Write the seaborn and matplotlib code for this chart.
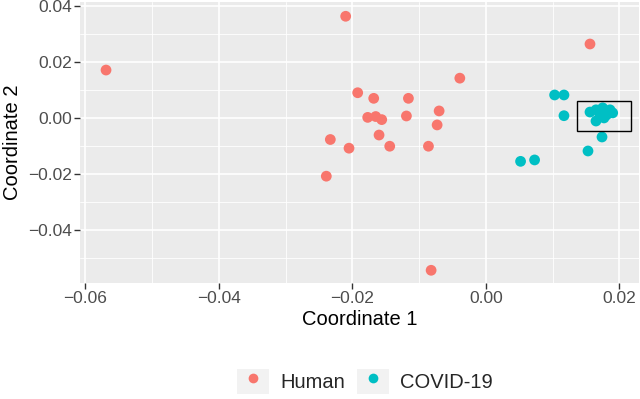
import pandas as pd
import matplotlib
matplotlib.use('Agg')
import matplotlib.pyplot as plt
import seaborn as sns
from matplotlib.patches import Rectangle, Patch
from matplotlib.lines import Line2D
from matplotlib.legend_handler import HandlerTuple
from matplotlib.ticker import MultipleLocator, FuncFormatter

# points
human_x = [-0.0569, -0.0210, -0.0039, -0.0192, -0.0168, -0.0116, -0.0070, -0.0177,
           -0.0165, -0.0156, -0.0119, -0.0073, -0.0160, -0.0233, -0.0205, -0.0144,
           -0.0086, -0.0239, -0.0082, 0.0156]
human_y = [0.0171, 0.0363, 0.0142, 0.0090, 0.0070, 0.0070, 0.0025, 0.0002,
           0.0005, -0.0006, 0.0007, -0.0025, -0.0061, -0.0077, -0.0108, -0.0101,
           -0.0101, -0.0208, -0.0544, 0.0264]

covid_x = [0.0103, 0.0117, 0.0117, 0.0052, 0.0073, 0.0153, 0.0174,
           0.0156, 0.0165, 0.0175, 0.0186, 0.0190, 0.0171, 0.0181, 0.0165, 0.0177]
covid_y = [0.0082, 0.0082, 0.0008, -0.0155, -0.0150, -0.0118, -0.0068,
           0.0021, 0.0029, 0.0036, 0.0029, 0.0018, 0.0011, 0.0011, -0.0011, 0.0000]

groups = ['Human', 'COVID-19']
colors = ['#F8766D', '#00BFC4']

# highlight box around the covid cluster
box_x = [0.0137, 0.0217]
box_y = [-0.0046, 0.0061]

df = pd.DataFrame({
    'x': human_x + covid_x,
    'y': human_y + covid_y,
    'group': ['Human'] * len(human_x) + ['COVID-19'] * len(covid_x),
})

sns.set_theme(style='darkgrid', rc={
    'axes.facecolor': '#EBEBEB',
    'grid.color': 'white',
})
plt.rcParams['font.family'] = ['Liberation Sans', 'DejaVu Sans']

fig = plt.figure(figsize=(6.4, 3.99), dpi=100)
ax = fig.add_axes([0.125, 0.291, 0.873, 0.704])

sns.scatterplot(data=df, x='x', y='y', hue='group', hue_order=groups,
                palette=dict(zip(groups, colors)), s=60, edgecolor='none',
                legend=False, ax=ax, zorder=3)

ax.add_patch(Rectangle((box_x[0], box_y[0]), box_x[1] - box_x[0], box_y[1] - box_y[0],
                       fill=False, edgecolor='black', linewidth=1.0, zorder=4))

ax.set_xlim(-0.0608, 0.0229)
ax.set_ylim(-0.0589, 0.0414)

fmt = FuncFormatter(lambda v, p: ('%.2f' % (0.0 if abs(v) < 1e-9 else v)).replace('-', '\u2212'))
for axis in (ax.xaxis, ax.yaxis):
    axis.set_major_locator(MultipleLocator(0.02))
    axis.set_minor_locator(MultipleLocator(0.01))
    axis.set_major_formatter(fmt)

ax.grid(which='major', color='white', linewidth=1.2)
ax.grid(which='minor', color='white', linewidth=0.6)
ax.set_axisbelow(True)
for s in ax.spines.values():
    s.set_visible(False)

ax.tick_params(which='major', length=4, width=1, color='#333333',
               labelsize=12.5, labelcolor='#4D4D4D', pad=2, bottom=True, left=True)
ax.tick_params(which='minor', length=0)

ax.set_xlabel('Coordinate 1', fontsize=14.5, color='black', labelpad=3)
ax.set_ylabel('Coordinate 2', fontsize=14.5, color='black', labelpad=4)

handles = []
for c in colors:
    bg = Patch(facecolor='#F2F2F2', edgecolor='none')
    dot = Line2D([], [], marker='o', linestyle='none', markerfacecolor=c,
                 markeredgecolor='none', markersize=7)
    handles.append((bg, dot))

fig.legend(handles, groups, loc='center', bbox_to_anchor=(0.57, 0.044), ncol=2,
           frameon=False, fontsize=14.5, handlelength=1.6, handleheight=1.6,
           handletextpad=0.55, columnspacing=0.6, borderpad=0,
           handler_map={tuple: HandlerTuple(ndivide=1, pad=0)})

fig.savefig('out.png', dpi=100)
